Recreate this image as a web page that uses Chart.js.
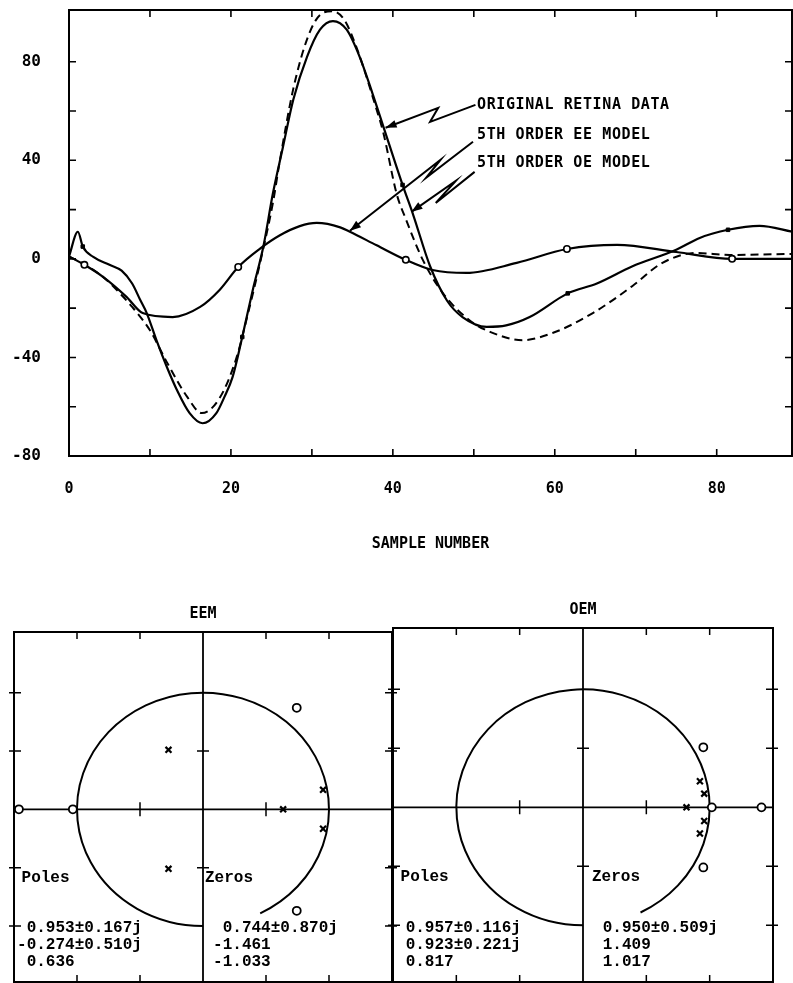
<!DOCTYPE html>
<html><head><meta charset="utf-8">
<script src="https://cdn.jsdelivr.net/npm/chart.js@4.4.1/dist/chart.umd.min.js"></script>
<style>
html,body{margin:0;padding:0;background:#fff;overflow:hidden;width:793px;height:983px;}
canvas{position:absolute;left:0;top:0;}
</style></head><body>
<canvas id="top" width="793" height="560"></canvas>
<canvas id="eem" width="793" height="983"></canvas>
<canvas id="oem" width="793" height="983"></canvas>
<script>
// ---------- Top chart data ----------
const retinaX = [0, 1.1, 1.7, 3, 5, 6.5, 7.8, 8.8, 9.6, 10.8, 12.1, 13.3, 14.9, 16.5, 18.2, 19.2, 20.2, 21.4, 22.7, 24, 25.2, 26.4, 27.7, 29.4, 31, 32.6, 34.3, 35.9, 37.5, 38.8, 41.2, 42.5, 44.6, 46.7, 48.6, 51.6, 54, 56.9, 61.6, 65.2, 69.6, 75, 77.9, 81.4, 85.3, 89.4];
const retinaY = [1, 11, 5, 0.8, -2.4, -4.8, -10, -16.7, -22, -33, -44, -53, -62.6, -66.7, -62.6, -56, -48, -31.7, -12.6, 4.9, 26.8, 45, 64.6, 82, 93, 96.5, 93, 82, 67, 54, 30, 18, -3, -17, -23.6, -27.6, -27, -23.6, -14, -10, -3, 3.7, 8.5, 11.8, 13.4, 11];
const retinaMarkX = [1.7, 21.4, 41.2, 61.6, 81.4];

const oeX = [0, 2, 4.2, 6, 7.8, 10, 12.1, 14.6, 16.4, 18.6, 20.7, 22, 23.6, 25.2, 26, 27.7, 29.5, 31, 32.5, 34, 35.6, 38, 38.8, 40.5, 41.5, 43.7, 46.2, 49.5, 52, 56, 59.8, 64.7, 69.6, 73.3, 77.5, 81.6, 89.4];
const oeY = [1, -2.4, -7.3, -13, -19.5, -29, -42, -56, -62.6, -56.5, -40, -23.6, -1.6, 23, 39, 69, 90, 99, 100.5, 97, 85, 60.5, 51.5, 26, 17, -0.4, -14, -25, -29.6, -33, -30, -22, -11, -1.6, 2.4, 1.6, 2];

const eeX = [0, 1.9, 4.2, 7.1, 9.1, 12.8, 16.2, 18.6, 20.9, 23.6, 26, 28.5, 30.6, 33.5, 34.7, 38, 41.6, 44.9, 49.1, 55.3, 61.5, 67.7, 75, 81.9, 89.4];
const eeY = [1, -2.4, -7.3, -15.4, -22, -23.6, -19.5, -12.6, -3.3, 4.2, 9.5, 13.3, 14.6, 12.8, 11, 5.5, -0.4, -4.5, -5.7, -1.6, 4, 5.7, 2.8, 0, 0];
const eeMarkX = [1.9, 20.9, 41.6, 61.5, 81.9];

const xTickLabels = [0, 20, 40, 60, 80];
const yTickLabels = [-80, -40, 0, 40, 80];
const xTickMarks = [10, 20, 30, 40, 50, 60, 70, 80];
const yTickMarks = [-60, -40, -20, 0, 20, 40, 60, 80];

// ---------- Pole / zero data ----------
const eemPoleRe = [0.953, -0.274, 0.636], eemPoleIm = [0.167, 0.510, 0];
const eemZeroRe = [0.744, -1.461, -1.033], eemZeroIm = [0.870, 0, 0];
const oemPoleRe = [0.957, 0.923, 0.817], oemPoleIm = [0.116, 0.221, 0];
const oemZeroRe = [0.950, 1.409, 1.017], oemZeroIm = [0.509, 0, 0];
const pzTicks = [-1, -0.5, 0.5, 1];

// ---------- annotation layout (data coordinates of the top chart) ----------
const annotations = [
  { text: 'ORIGINAL RETINA DATA', at: [50.4, 62.5], path: [[50.2, 62.5], [44.6, 55.6], [45.6, 61.3], [39.1, 53.2]] },
  { text: '5TH ORDER EE MODEL', at: [50.4, 50.3], path: [[49.9, 47.5], [44.1, 32.9], [45.9, 40.2], [34.7, 11.4]] },
  { text: '5TH ORDER OE MODEL', at: [50.4, 39.0], path: [[50.1, 35.3], [45.3, 22.7], [47.8, 31.7], [42.3, 19.1]] }
];

const pts = (xs, ys) => xs.map((x, i) => ({ x, y: ys[i] }));
const monoFont = '"DejaVu Sans Mono", monospace';

const topFrame = {
  id: 'topFrame',
  afterDatasetsDraw(chart) {
    const { ctx, chartArea: a, scales: { x, y } } = chart;
    ctx.save();
    ctx.strokeStyle = '#000'; ctx.fillStyle = '#000';
    ctx.lineWidth = 2;
    ctx.strokeRect(a.left, a.top, a.right - a.left, a.bottom - a.top);
    ctx.lineWidth = 1.6;
    ctx.beginPath();
    xTickMarks.forEach(v => { const px = x.getPixelForValue(v); ctx.moveTo(px, a.top); ctx.lineTo(px, a.top + 7); ctx.moveTo(px, a.bottom); ctx.lineTo(px, a.bottom - 7); });
    yTickMarks.forEach(v => { const py = y.getPixelForValue(v); ctx.moveTo(a.left, py); ctx.lineTo(a.left + 7, py); ctx.moveTo(a.right, py); ctx.lineTo(a.right - 7, py); });
    ctx.stroke();
    ctx.font = 'bold 15px ' + monoFont;
    ctx.letterSpacing = '0.6px';
    ctx.textBaseline = 'middle'; ctx.textAlign = 'left';
    annotations.forEach(an => {
      ctx.fillText(an.text, x.getPixelForValue(an.at[0]), y.getPixelForValue(an.at[1]));
      const p = an.path.map(([vx, vy]) => [x.getPixelForValue(vx), y.getPixelForValue(vy)]);
      ctx.beginPath(); ctx.lineWidth = 2;
      p.forEach(([px, py], i) => i ? ctx.lineTo(px, py) : ctx.moveTo(px, py));
      ctx.stroke();
      const [tx, ty] = p[p.length - 1], [sx, sy] = p[p.length - 2];
      const ang = Math.atan2(ty - sy, tx - sx), L = 11, W = 4;
      ctx.beginPath(); ctx.moveTo(tx, ty);
      ctx.lineTo(tx - L * Math.cos(ang) + W * Math.sin(ang), ty - L * Math.sin(ang) - W * Math.cos(ang));
      ctx.lineTo(tx - L * Math.cos(ang) - W * Math.sin(ang), ty - L * Math.sin(ang) + W * Math.cos(ang));
      ctx.closePath(); ctx.fill();
    });
    ctx.restore();
  }
};

new Chart(document.getElementById('top'), {
  type: 'scatter',
  data: {
    datasets: [
      { label: 'ORIGINAL RETINA DATA', data: pts(retinaX, retinaY), showLine: true, borderColor: '#000', borderWidth: 2.2,
        cubicInterpolationMode: 'monotone', pointStyle: 'rect', pointBackgroundColor: '#000', pointBorderColor: '#000', pointBorderWidth: 1,
        pointRadius: c => (c.raw && retinaMarkX.includes(c.raw.x)) ? 2.5 : 0 },
      { label: '5TH ORDER EE MODEL', data: pts(eeX, eeY), showLine: true, borderColor: '#000', borderWidth: 2.2,
        cubicInterpolationMode: 'monotone', pointStyle: 'circle', pointBackgroundColor: '#fff', pointBorderColor: '#000', pointBorderWidth: 1.6,
        pointRadius: c => (c.raw && eeMarkX.includes(c.raw.x)) ? 3.2 : 0 },
      { label: '5TH ORDER OE MODEL', data: pts(oeX, oeY), showLine: true, borderColor: '#000', borderWidth: 2,
        borderDash: [8, 5], cubicInterpolationMode: 'monotone', pointRadius: 0 }
    ]
  },
  options: {
    responsive: false, animation: false, devicePixelRatio: 1,
    layout: { padding: { top: 10, right: 1, left: 0, bottom: 0 }, autoPadding: false },
    plugins: { legend: { display: false }, tooltip: { enabled: false } },
    scales: {
      x: {
        type: 'linear', min: 0, max: 89.3,
        afterBuildTicks: s => { s.ticks = xTickLabels.map(v => ({ value: v })); },
        afterFit: s => { s.height = 104; s.paddingLeft = 0; s.paddingRight = 0; },
        grid: { display: false, drawTicks: false }, border: { display: false },
        ticks: { padding: 24, color: '#000', autoSkip: false, maxRotation: 0, font: { family: monoFont, size: 15, weight: 'bold' } },
        title: { display: true, text: 'SAMPLE NUMBER', color: '#000', font: { family: monoFont, size: 15, weight: 'bold' }, padding: { top: 0, bottom: 7 } }
      },
      y: {
        type: 'linear', min: -80, max: 101,
        afterBuildTicks: s => { s.ticks = yTickLabels.map(v => ({ value: v })); },
        afterFit: s => { s.width = 69; s.paddingTop = 0; s.paddingBottom = 0; },
        grid: { display: false, drawTicks: false }, border: { display: false },
        ticks: { padding: 28, color: '#000', autoSkip: false, font: { family: monoFont, size: 16, weight: 'bold' } }
      }
    }
  },
  plugins: [topFrame]
});

// ---------- pole/zero panels ----------
const fmt = (re, im) => (re < 0 ? '-' : ' ') + Math.abs(re).toFixed(3) + (im ? '\u00b1' + im.toFixed(3) + 'j' : '');
const toPts = (res, ims) => { const o = []; res.forEach((r, i) => { if (ims[i]) { o.push({ x: r, y: ims[i] }, { x: r, y: -ims[i] }); } else o.push({ x: r, y: 0 }); }); return o; };

function pzPlugin(title, poleRe, poleIm, zeroRe, zeroIm, zerosLabelX) {
  return {
    id: 'pz' + title,
    beforeDatasetsDraw(chart) {
      const { ctx, chartArea: a, scales: { x, y } } = chart;
      const X = v => x.getPixelForValue(v), Y = v => y.getPixelForValue(v);
      ctx.save(); ctx.strokeStyle = '#000';
      ctx.lineWidth = 2;
      ctx.strokeRect(a.left, a.top, a.right - a.left, a.bottom - a.top);
      ctx.lineWidth = 1.8;
      ctx.beginPath();
      ctx.moveTo(a.left, Y(0)); ctx.lineTo(a.right, Y(0));
      ctx.moveTo(X(0), a.top); ctx.lineTo(X(0), a.bottom);
      ctx.stroke();
      ctx.lineWidth = 1.5; ctx.beginPath();
      pzTicks.forEach(v => {
        ctx.moveTo(X(v), a.top); ctx.lineTo(X(v), a.top + 7);
        ctx.moveTo(X(v), a.bottom); ctx.lineTo(X(v), a.bottom - 7);
        ctx.moveTo(a.left - 5, Y(v)); ctx.lineTo(a.left + 7, Y(v));
        ctx.moveTo(a.right - 7, Y(v)); ctx.lineTo(a.right + 5, Y(v));
      });
      [-0.5, 0.5].forEach(v => {
        ctx.moveTo(X(v), Y(0) - 7); ctx.lineTo(X(v), Y(0) + 7);
        ctx.moveTo(X(0) - 6, Y(v)); ctx.lineTo(X(0) + 6, Y(v));
      });
      ctx.stroke();
      ctx.lineWidth = 2; ctx.beginPath();
      ctx.ellipse(X(0), Y(0), X(1) - X(0), Y(0) - Y(1), 0, 63 * Math.PI / 180, Math.PI / 2, true);
      ctx.stroke();
      ctx.restore();
    },
    afterDatasetsDraw(chart) {
      const { ctx, scales: { x, y } } = chart;
      const X = v => x.getPixelForValue(v), Y = v => y.getPixelForValue(v);
      ctx.save(); ctx.fillStyle = '#000'; ctx.textBaseline = 'middle';
      ctx.font = 'bold 15px ' + monoFont; ctx.textAlign = 'center';
      ctx.fillText(title, X(0), Y(1.67));
      ctx.font = 'bold 16px "Liberation Mono", monospace'; ctx.textAlign = 'left';
      ctx.fillText('Poles', X(-1.44), Y(-0.59));
      ctx.fillText('Zeros', X(zerosLabelX), Y(-0.59));
      const rows = [-1.02, -1.165, -1.31];
      poleRe.forEach((r, i) => ctx.fillText(fmt(r, poleIm[i]), X(-1.476), Y(rows[i])));
      zeroRe.forEach((r, i) => ctx.fillText(fmt(r, zeroIm[i]), X(0.08), Y(rows[i])));
      ctx.restore();
    }
  };
}

function makePZ(id, title, poleRe, poleIm, zeroRe, zeroIm, pad, zerosLabelX) {
  new Chart(document.getElementById(id), {
    type: 'scatter',
    data: {
      datasets: [
        { label: 'Poles', data: toPts(poleRe, poleIm), pointStyle: 'crossRot', pointRadius: 4.2, pointBorderWidth: 2.2, pointBorderColor: '#000', pointBackgroundColor: '#000' },
        { label: 'Zeros', data: toPts(zeroRe, zeroIm), pointStyle: 'circle', pointRadius: 4, pointBorderWidth: 1.8, pointBorderColor: '#000', pointBackgroundColor: '#fff' }
      ]
    },
    options: {
      responsive: false, animation: false, devicePixelRatio: 1,
      layout: { padding: pad, autoPadding: false },
      plugins: { legend: { display: false }, tooltip: { enabled: false } },
      scales: {
        x: { type: 'linear', min: -1.5, max: 1.5, display: false },
        y: { type: 'linear', min: -1.48, max: 1.52, display: false }
      }
    },
    plugins: [pzPlugin(title, poleRe, poleIm, zeroRe, zeroIm, zerosLabelX)]
  });
}

makePZ('eem', 'EEM', eemPoleRe, eemPoleIm, eemZeroRe, eemZeroIm, { left: 14, right: 401, top: 632, bottom: 1 }, 0.016);
makePZ('oem', 'OEM', oemPoleRe, oemPoleIm, oemZeroRe, oemZeroIm, { left: 393, right: 20, top: 628, bottom: 1 }, 0.071);
</script>
</body></html>
